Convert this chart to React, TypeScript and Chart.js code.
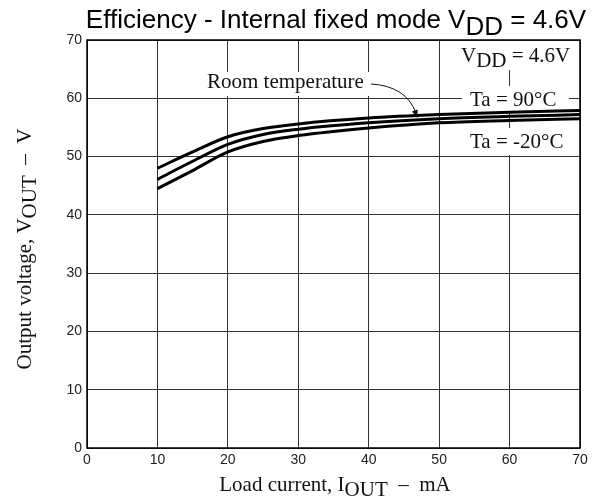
import React, { useEffect, useRef } from "react";
import { Chart, registerables } from "chart.js";

Chart.register(...registerables);

// ---- data ----
const loadCurrent = [10, 15, 20, 25, 30, 40, 50, 60, 70];
const vout90 = [48.0, 50.8, 53.4, 54.8, 55.6, 56.6, 57.2, 57.6, 57.9];
const voutRoom = [46.1, 49.2, 52.1, 53.8, 54.7, 55.8, 56.5, 56.9, 57.2];
const voutMinus20 = [44.5, 47.6, 50.8, 52.6, 53.6, 54.9, 55.8, 56.2, 56.5];
const xRange = [0, 70];
const yRange = [0, 70];
const tickStep = 10;

const SANS = "'Liberation Sans', Arial, sans-serif";
const SERIF = "'Liberation Serif', 'Times New Roman', serif";

type Part = { t: string; dy?: number };

function richWidth(ctx: CanvasRenderingContext2D, parts: Part[]) {
  return parts.reduce((s, p) => s + ctx.measureText(p.t).width, 0);
}
function drawRich(ctx: CanvasRenderingContext2D, parts: Part[], x: number, y: number) {
  let cx = x;
  for (const p of parts) {
    ctx.fillText(p.t, cx, y + (p.dy || 0));
    cx += ctx.measureText(p.t).width;
  }
}

const decor = {
  id: "decor",
  beforeDatasetsDraw(chart: any) {
    const ctx: CanvasRenderingContext2D = chart.ctx;
    ctx.save();
    ctx.fillStyle = "#fff";
    // white label backgrounds
    ctx.fillRect(204, 72, 172, 24);
    ctx.fillRect(455, 41, 124, 29);
    ctx.fillRect(462, 86, 107, 27);
    ctx.fillRect(462, 128, 107, 27);

    ctx.fillStyle = "#111";
    ctx.textBaseline = "alphabetic";
    ctx.textAlign = "left";
    ctx.font = `21px ${SERIF}`;
    ctx.fillText("Room temperature", 207, 88);
    drawRich(ctx, [{ t: "V" }, { t: "DD", dy: 5 }, { t: " = 4.6V" }], 461, 62);
    ctx.fillText("Ta = 90°C", 470, 106);
    ctx.fillText("Ta = -20°C", 470, 148);

    // arrow
    ctx.strokeStyle = "#111";
    ctx.lineWidth = 1;
    ctx.beginPath();
    ctx.moveTo(371, 84);
    ctx.quadraticCurveTo(406, 86, 416, 113);
    ctx.stroke();
    const ex = 417.5, ey = 118;
    const ang = Math.atan2(118 - 86, 417.5 - 406);
    ctx.beginPath();
    ctx.moveTo(ex, ey);
    ctx.lineTo(ex - 8 * Math.cos(ang) + 3 * Math.sin(ang), ey - 8 * Math.sin(ang) - 3 * Math.cos(ang));
    ctx.lineTo(ex - 8 * Math.cos(ang) - 3 * Math.sin(ang), ey - 8 * Math.sin(ang) + 3 * Math.cos(ang));
    ctx.closePath();
    ctx.fill();
    ctx.restore();
  },
  afterDraw(chart: any) {
    const ctx: CanvasRenderingContext2D = chart.ctx;
    const a = chart.chartArea;
    ctx.save();
    // frame
    ctx.strokeStyle = "#000";
    ctx.lineWidth = 1.5;
    ctx.strokeRect(a.left, a.top, a.right - a.left, a.bottom - a.top);

    ctx.fillStyle = "#000";
    ctx.textBaseline = "alphabetic";
    ctx.textAlign = "left";
    // title
    ctx.font = `26px ${SANS}`;
    const tParts: Part[] = [
      { t: "Efficiency - Internal fixed mode V" },
      { t: "DD", dy: 7 },
      { t: " = 4.6V" },
    ];
    const tw = richWidth(ctx, tParts);
    drawRich(ctx, tParts, 336 - tw / 2, 28);

    // axis titles
    ctx.font = `21px ${SERIF}`;
    ctx.fillStyle = "#111";
    const xParts: Part[] = [
      { t: "Load current, I" },
      { t: "OUT", dy: 5 },
      { t: "  \u2013  mA" },
    ];
    const xw = richWidth(ctx, xParts);
    drawRich(ctx, xParts, 335 - xw / 2, 491);

    const yParts: Part[] = [
      { t: "Output voltage, V" },
      { t: "OUT", dy: 5 },
      { t: "  \u2013  V" },
    ];
    const yw = richWidth(ctx, yParts);
    ctx.translate(31, 249);
    ctx.rotate(-Math.PI / 2);
    drawRich(ctx, yParts, -yw / 2, 0);
    ctx.restore();
  },
};

function toPoints(ys: number[]) {
  return loadCurrent.map((x, i) => ({ x, y: ys[i] }));
}

export default function App() {
  const ref = useRef<HTMLCanvasElement | null>(null);
  useEffect(() => {
    if (!ref.current) return;
    const lineStyle = {
      borderColor: "#000",
      borderWidth: 3,
      pointRadius: 0,
      fill: false,
      cubicInterpolationMode: "monotone" as const,
      borderCapStyle: "butt" as const,
    };
    const chart = new Chart(ref.current, {
      type: "line",
      data: {
        datasets: [
          { label: "Ta = 90°C", data: toPoints(vout90), ...lineStyle },
          { label: "Room temperature", data: toPoints(voutRoom), ...lineStyle },
          { label: "Ta = -20°C", data: toPoints(voutMinus20), ...lineStyle },
        ],
      },
      options: {
        animation: false,
        responsive: false,
        layout: { padding: { top: 40, right: 23, left: 0, bottom: 0 } },
        plugins: {
          legend: { display: false },
          tooltip: { enabled: false },
          title: { display: false },
        },
        scales: {
          x: {
            type: "linear",
            min: xRange[0],
            max: xRange[1],
            ticks: {
              stepSize: tickStep,
              color: "#222",
              font: { family: SANS, size: 14 },
              padding: 4,
              maxRotation: 0,
            },
            grid: { color: "#333", lineWidth: 1, drawTicks: false },
            border: { display: false },
            afterFit: (s: any) => {
              s.height = 51;
            },
          },
          y: {
            type: "linear",
            min: yRange[0],
            max: yRange[1],
            ticks: {
              stepSize: tickStep,
              color: "#222",
              font: { family: SANS, size: 14 },
              padding: 5,
            },
            grid: { color: "#333", lineWidth: 1, drawTicks: false },
            border: { display: false },
            afterFit: (s: any) => {
              s.width = 87;
            },
          },
        },
      },
      plugins: [decor],
    });
    return () => chart.destroy();
  }, []);
  return (
    <div style={{ position: "absolute", left: 0, top: 0, width: 603, height: 499, background: "#fff" }}>
      <canvas ref={ref} width={603} height={499} style={{ display: "block" }} />
    </div>
  );
}
